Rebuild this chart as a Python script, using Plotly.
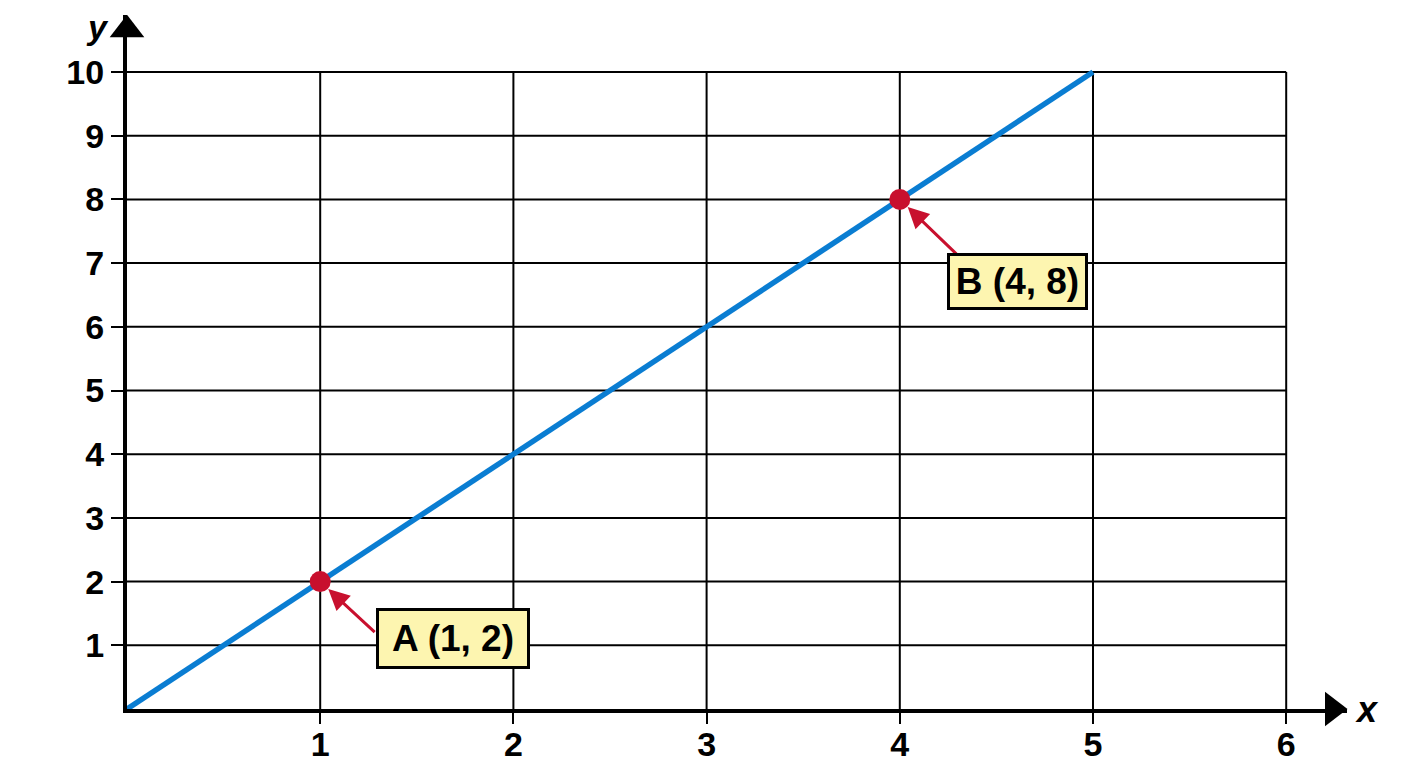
import plotly.graph_objects as go

# Data
line_x = [0, 5]
line_y = [0, 10]
pts_x = [1, 4]
pts_y = [2, 8]
pt_labels = ["A (1, 2)", "B (4, 8)"]
x_ticks = [1, 2, 3, 4, 5, 6]
y_ticks = [1, 2, 3, 4, 5, 6, 7, 8, 9, 10]

FONT = "Liberation Sans"
BLUE = "#0a7dd2"
RED = "#c8102e"
YELLOW = "#fdf5b0"

fig = go.Figure()

# grid lines
gx, gy = [], []
for yv in y_ticks:
    gx += [0, max(x_ticks), None]
    gy += [yv, yv, None]
for xv in x_ticks:
    gx += [xv, xv, None]
    gy += [0, max(y_ticks), None]
fig.add_trace(go.Scatter(x=gx, y=gy, mode="lines", line=dict(color="black", width=2),
                         hoverinfo="skip", showlegend=False))

# main line
fig.add_trace(go.Scatter(x=line_x, y=line_y, mode="lines", line=dict(color=BLUE, width=5.5),
                         showlegend=False))
# points
fig.add_trace(go.Scatter(x=pts_x, y=pts_y, mode="markers", marker=dict(color=RED, size=21),
                         showlegend=False, cliponaxis=False))

xmax = 1220 / 193.2
ymax = 694 / 63.7

# arrowheads on axes
fig.add_trace(go.Scatter(x=[xmax - 0.075], y=[0], mode="markers",
                         marker=dict(symbol="triangle-right", color="black", size=30),
                         cliponaxis=False, showlegend=False, hoverinfo="skip"))
fig.add_trace(go.Scatter(x=[0], y=[ymax - 0.23], mode="markers",
                         marker=dict(symbol="triangle-up", color="black", size=30),
                         cliponaxis=False, showlegend=False, hoverinfo="skip"))

# callouts
offsets = [(133, 57), (118, 82)]
arrows = [(56, 52), (58, 56)]
boxes = [(140, 47), (127, 43)]
for px, py, lab, (dx, dy), (ax, ay), (bw, bh) in zip(pts_x, pts_y, pt_labels, offsets, arrows, boxes):
    fig.add_annotation(x=px, y=py, xref="x", yref="y", text="", showarrow=True,
                       ax=ax, ay=ay, arrowcolor=RED, arrowwidth=3, arrowhead=2,
                       arrowsize=1.4, standoff=11)
    fig.add_annotation(x=px, y=py, xref="x", yref="y", text="<b>%s</b>" % lab,
                       showarrow=False, xshift=dx, yshift=-dy, width=bw, height=bh,
                       align="center", valign="middle",
                       font=dict(family=FONT, size=37, color="black"),
                       bgcolor=YELLOW, bordercolor="black", borderwidth=3, borderpad=4)

# axis labels
fig.add_annotation(x=1, y=0, xref="x domain", yref="y", text="<b><i>x</i></b>",
                   showarrow=False, xanchor="left", yanchor="middle", xshift=6,
                   font=dict(family=FONT, size=36, color="black"))
fig.add_annotation(x=0, y=1, xref="x domain", yref="y domain", text="<b><i>y</i></b>",
                   showarrow=False, xanchor="center", yanchor="middle", xshift=-30, yshift=-12,
                   font=dict(family=FONT, size=34, color="black"))

fig.update_layout(
    width=1400, height=760,
    margin=dict(l=119, r=61, t=7, b=59),
    plot_bgcolor="white", paper_bgcolor="white",
    font=dict(family=FONT, color="black"),
)
fig.update_xaxes(range=[0, xmax], showgrid=False, zeroline=False, automargin=False,
                 showline=True, linecolor="black", linewidth=4,
                 tickvals=x_ticks, ticktext=["<b>%d</b>" % v for v in x_ticks],
                 ticks="outside", ticklen=11, tickwidth=2, tickcolor="black",
                 ticklabelstandoff=-9,
                 tickfont=dict(family=FONT, size=34, color="black"))
fig.update_yaxes(range=[0, ymax], showgrid=False, zeroline=False, automargin=False,
                 showline=True, linecolor="black", linewidth=4,
                 tickvals=y_ticks, ticktext=["<b>%d</b>" % v for v in y_ticks],
                 ticks="outside", ticklen=12, tickwidth=2, tickcolor="black",
                 tickfont=dict(family=FONT, size=34, color="black"))

fig.write_html("out.html")
